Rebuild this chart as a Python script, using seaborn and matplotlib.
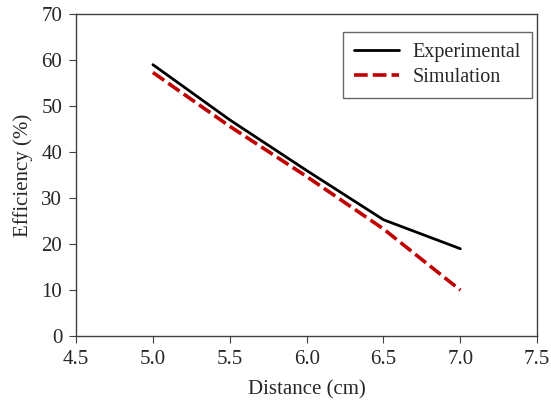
import matplotlib
matplotlib.use("Agg")
import matplotlib.pyplot as plt
import seaborn as sns
import pandas as pd

# Data
distance = [5.0, 5.5, 6.0, 6.5, 7.0]
experimental = [59.0, 47.0, 36.0, 25.3, 19.0]
simulation = [57.3, 45.6, 34.7, 23.3, 10.0]

x_ticks = [4.5, 5.0, 5.5, 6.0, 6.5, 7.0, 7.5]
y_ticks = [0, 10, 20, 30, 40, 50, 60, 70]

df = pd.DataFrame({
    "Distance": distance * 2,
    "Efficiency": experimental + simulation,
    "Series": ["Experimental"] * len(distance) + ["Simulation"] * len(distance),
})

sns.set_style("ticks")
plt.rcParams['font.family'] = ['Liberation Serif', 'DejaVu Serif']

fig, ax = plt.subplots(figsize=(5.51, 4.13), dpi=100)
fig.subplots_adjust(left=0.138, right=0.975, bottom=0.186, top=0.966)

sns.lineplot(data=df, x="Distance", y="Efficiency", hue="Series", style="Series",
             palette={"Experimental": "black", "Simulation": "#C00000"},
             dashes={"Experimental": "", "Simulation": (3.8, 1.4)},
             ax=ax)
for line, lw in zip(ax.get_lines()[:2], [2.0, 2.6]):
    line.set_linewidth(lw)

ax.set_xlim(4.5, 7.5)
ax.set_ylim(0, 70)
ax.set_xticks(x_ticks)
ax.set_xticklabels([f"{t:.1f}" for t in x_ticks])
ax.set_yticks(y_ticks)
ax.tick_params(labelsize=15, direction="out", length=5, color="#404040", pad=5)
ax.set_xlabel("Distance (cm)", fontsize=15, labelpad=8)
ax.set_ylabel("Efficiency (%)", fontsize=15, labelpad=6)

for side in ["top", "right", "left", "bottom"]:
    ax.spines[side].set_visible(True)
    ax.spines[side].set_color("#404040")
    ax.spines[side].set_linewidth(1.0)

leg = ax.legend(loc="upper right", bbox_to_anchor=(0.989, 0.944), borderaxespad=0,
                fontsize=14.5, frameon=True, fancybox=False, edgecolor="#404040",
                handlelength=2.2, handletextpad=0.7, borderpad=0.55, labelspacing=0.3)
leg.get_frame().set_linewidth(1.0)
for h, lw in zip(leg.get_lines(), [2.0, 2.6]):
    h.set_linewidth(lw)

fig.savefig("out.png", dpi=100)
